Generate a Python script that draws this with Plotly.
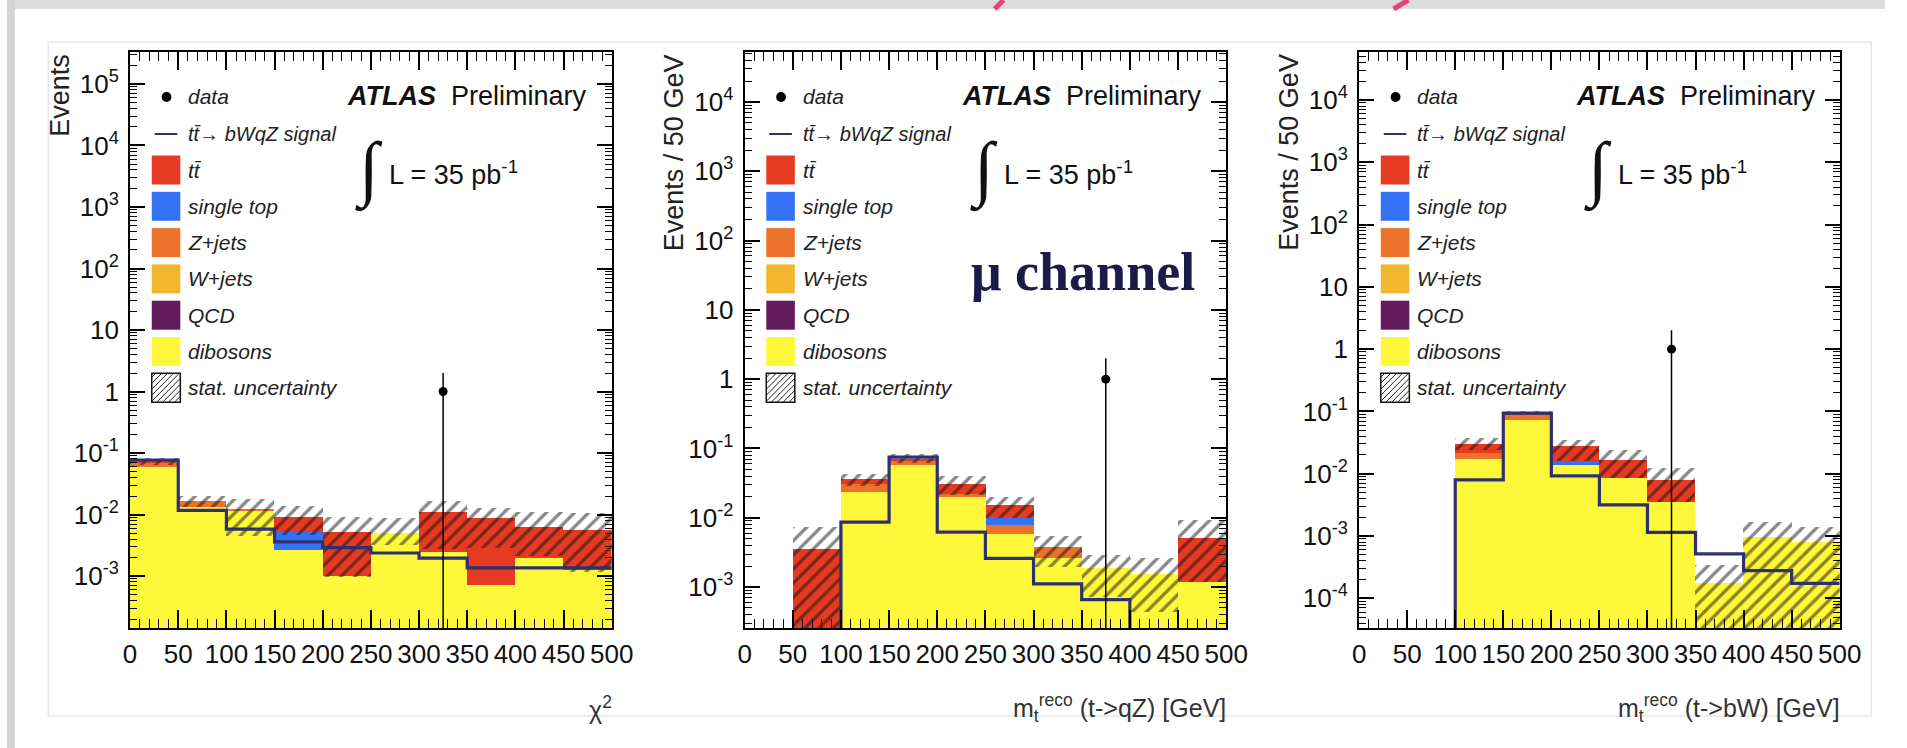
import plotly.graph_objects as go
import numpy as np

W, H = 1907, 748

# ---------------- data ----------------
bin_edges = [0, 50, 100, 150, 200, 250, 300, 350, 400, 450, 500]
bin_centers = [25, 75, 125, 175, 225, 275, 325, 375, 425, 475]
x_tick_labels = ["0", "50", "100", "150", "200", "250", "300", "350", "400", "450", "500"]

# Panel 1: chi2
chi2_dibosons = [0.059, 0.0133, 0.0115, 0.0027, 0.00102, 0.0050, 0.00245, 0.00072, 0.00196, 0.00126]
chi2_qcd      = [0, 0, 0, 0, 0, 0, 0, 0, 0, 0]
chi2_wjets    = [0, 0, 0, 0, 0, 0, 0, 0, 0, 0]
chi2_zjets    = [0.011, 0.0033, 0.0007, 0, 0, 0, 0, 0, 0, 0]
chi2_singletop = [0, 0, 0, 0.0025, 0, 0, 0, 0, 0, 0]
chi2_ttbar    = [0.002, 0, 0, 0.0039, 0.0042, 0, 0.0086, 0.0079, 0.0043, 0.0044]
chi2_stat_lo  = [0.063, 0.0133, 0.0045, 0.0047, 0.00095, 0.0032, 0.0028, 0.0029, 0.0021, 0.00115]
chi2_stat_hi  = [0.082, 0.020, 0.018, 0.0136, 0.0091, 0.0088, 0.0167, 0.0126, 0.011, 0.0104]
chi2_signal   = [0.077, 0.0117, 0.0058, 0.0036, 0.0029, 0.00237, 0.00196, 0.00136, 0.00136, 0.00136]
chi2_data_x, chi2_data_y, chi2_data_err = [325], [1], [1]

# Panel 2: m_reco(t->qZ)
mqz_dibosons = [0, 0, 0.0234, 0.057, 0.0198, 0.0059, 0.0026, 0.00187, 0.00155, 0.00118]
mqz_qcd      = [0, 0, 0, 0, 0, 0, 0, 0, 0, 0]
mqz_wjets    = [0, 0, 0, 0, 0, 0, 0, 0, 0, 0]
mqz_zjets    = [0, 0, 0.0075, 0.0086, 0.0024, 0.0019, 0.0012, 0, 0, 0]
mqz_singletop = [0, 0, 0, 0, 0, 0.0023, 0, 0, 0, 0]
mqz_ttbar    = [0, 0.0036, 0.0048, 0.0054, 0.0088, 0.0051, 0, 0, 0, 0.0040]
mqz_stat_lo  = [0, 0, 0.029, 0.062, 0.021, 0.0100, 0.00195, 0.00071, 0.00044, 0.0012]
mqz_stat_hi  = [0, 0.0073, 0.043, 0.082, 0.0407, 0.0198, 0.0054, 0.0029, 0.0026, 0.0093]
mqz_signal   = [0, 0, 0.00865, 0.075, 0.0062, 0.0026, 0.00111, 0.00066, 0, 0]
mqz_data_x, mqz_data_y, mqz_data_err = [375], [1], [1]

# Panel 3: m_reco(t->bW)
mbw_dibosons = [0, 0, 0.0172, 0.0735, 0.01355, 0.0085, 0.00357, 0.000174, 0.00098, 0.00081]
mbw_qcd      = [0, 0, 0, 0, 0, 0, 0, 0, 0, 0]
mbw_wjets    = [0, 0, 0, 0, 0, 0, 0, 0, 0, 0]
mbw_zjets    = [0, 0, 0.0047, 0.015, 0, 0, 0, 0, 0, 0]
mbw_singletop = [0, 0, 0, 0, 0.0022, 0, 0, 0, 0, 0]
mbw_ttbar    = [0, 0, 0.0084, 0.0055, 0.0124, 0.0078, 0.0044, 0, 0, 0]
mbw_stat_lo  = [0, 0, 0.024, 0.088, 0.016, 0.0085, 0.0035, 0, 0, 0]
mbw_stat_hi  = [0, 0, 0.0373, 0.100, 0.035, 0.0242, 0.0123, 0.00034, 0.0017, 0.00142]
mbw_signal   = [0, 0, 0.00798, 0.094, 0.0092, 0.00316, 0.00114, 0.000515, 0.000278, 0.000174]
mbw_data_x, mbw_data_y, mbw_data_err = [325], [1], [1]

y_tick_vals = [1e-4, 1e-3, 1e-2, 1e-1, 1, 10, 100, 1e3, 1e4, 1e5]
y_tick_text = ["10<sup>-4</sup>", "10<sup>-3</sup>", "10<sup>-2</sup>", "10<sup>-1</sup>", "1", "10",
               "10<sup>2</sup>", "10<sup>3</sup>", "10<sup>4</sup>", "10<sup>5</sup>"]

legend_labels = ["tt\u0304", "single top", "Z+jets", "W+jets", "QCD", "dibosons"]

# ---------------- style ----------------
COL = {"ttbar": "#E63A22", "singletop": "#3472F5", "zjets": "#EC7229", "wjets": "#F3B72F",
       "qcd": "#631B5C", "dibosons": "#FEF73A"}
SIGNAL = "#2D3170"
FONT = "Liberation Sans"

panels = [
    dict(L=125, R=614, yr=[-3.845, 5.52], ytitle="Events", xtitle="\u03c7<sup>2</sup>",
         comps=[chi2_dibosons, chi2_qcd, chi2_wjets, chi2_zjets, chi2_singletop, chi2_ttbar],
         lo=chi2_stat_lo, hi=chi2_stat_hi, sig=chi2_signal,
         dx=chi2_data_x, dy=chi2_data_y, de=chi2_data_err),
    dict(L=749, R=1238, yr=[-3.59, 4.72], ytitle="Events / 50 GeV",
         xtitle="m<sub>t</sub><sup>reco</sup> (t->qZ) [GeV]",
         comps=[mqz_dibosons, mqz_qcd, mqz_wjets, mqz_zjets, mqz_singletop, mqz_ttbar],
         lo=mqz_stat_lo, hi=mqz_stat_hi, sig=mqz_signal,
         dx=mqz_data_x, dy=mqz_data_y, de=mqz_data_err),
    dict(L=1373, R=1861, yr=[-4.477, 4.77], ytitle="Events / 50 GeV",
         xtitle="m<sub>t</sub><sup>reco</sup> (t->bW) [GeV]",
         comps=[mbw_dibosons, mbw_qcd, mbw_wjets, mbw_zjets, mbw_singletop, mbw_ttbar],
         lo=mbw_stat_lo, hi=mbw_stat_hi, sig=mbw_signal,
         dx=mbw_data_x, dy=mbw_data_y, de=mbw_data_err),
]
comp_colors = [COL["dibosons"], COL["qcd"], COL["wjets"], COL["zjets"], COL["singletop"], COL["ttbar"]]
TOP, BOT = 52, 628
TINY = 1e-12


def px(x):
    return x / W


def py(y):
    return 1 - y / H


fig = go.Figure()
shapes = []
annotations = []

# slide decorations
shapes.append(dict(type="rect", xref="paper", yref="paper", x0=0, x1=1, y0=py(9), y1=1,
                   fillcolor="#DCDCDF", line=dict(width=0), layer="below"))
shapes.append(dict(type="rect", xref="paper", yref="paper", x0=0, x1=px(8), y0=0, y1=1,
                   fillcolor="#D4D4D6", line=dict(width=0), layer="below"))
shapes.append(dict(type="rect", xref="paper", yref="paper", x0=px(42), x1=px(1893), y0=py(716), y1=py(42),
                   fillcolor="rgba(0,0,0,0)", line=dict(color="#E6E6E6", width=1.5), layer="below"))
for (xa0, ya0, xa1, ya1) in [(1012, 0, 1003, 9), (1423, 0, 1408, 9)]:
    shapes.append(dict(type="line", xref="paper", yref="paper", x0=px(xa0), y0=py(ya0), x1=px(xa1), y1=py(ya1),
                       line=dict(color="#E8417A", width=5)))

for k, p in enumerate(panels, start=1):
    xa = "x" if k == 1 else f"x{k}"
    ya = "y" if k == 1 else f"y{k}"
    L, R = p["L"], p["R"]

    # stacked backgrounds
    base = np.zeros(10)
    for vals, col in zip(p["comps"], comp_colors):
        v = np.array(vals, dtype=float)
        fig.add_trace(go.Bar(x=bin_centers, y=v, base=np.maximum(base, TINY), width=50,
                             marker=dict(color=col, line=dict(width=0)),
                             xaxis=xa, yaxis=ya, showlegend=False, hoverinfo="skip"))
        base = base + v

    # stat uncertainty band (hatched)
    lo = np.array(p["lo"], dtype=float)
    hi = np.array(p["hi"], dtype=float)
    fig.add_trace(go.Bar(x=bin_centers, y=hi - lo, base=np.maximum(lo, TINY), width=50,
                         marker=dict(color="rgba(0,0,0,0)", line=dict(width=0),
                                     pattern=dict(shape="/", fgcolor="#111111", bgcolor="rgba(0,0,0,0)",
                                                  fillmode="overlay", size=10, solidity=0.33)),
                         xaxis=xa, yaxis=ya, showlegend=False, hoverinfo="skip"))

    # signal step line
    sig = np.maximum(np.array(p["sig"] + [p["sig"][-1]], dtype=float), TINY)
    fig.add_trace(go.Scatter(x=bin_edges, y=sig, mode="lines", line=dict(color=SIGNAL, width=3.2, shape="hv"),
                             xaxis=xa, yaxis=ya, showlegend=False, hoverinfo="skip"))

    # data
    fig.add_trace(go.Scatter(x=p["dx"], y=p["dy"], mode="markers",
                             marker=dict(color="black", size=9),
                             error_y=dict(type="data", array=p["de"], arrayminus=p["de"], width=0,
                                          thickness=1.5, color="black"),
                             xaxis=xa, yaxis=ya, showlegend=False, hoverinfo="skip"))

    # axes
    lo_dec = int(np.ceil(p["yr"][0]))
    hi_dec = int(np.floor(p["yr"][1]))
    tv, tt = [], []
    for v, t in zip(y_tick_vals, y_tick_text):
        e = int(round(np.log10(v)))
        if lo_dec <= e <= hi_dec:
            tv.append(v)
            tt.append(t)
    xkey = "xaxis" if k == 1 else f"xaxis{k}"
    ykey = "yaxis" if k == 1 else f"yaxis{k}"
    fig.layout[xkey] = dict(domain=[px(L), px(R)], anchor=ya, range=[0, 500], tickmode="array",
                            tickvals=bin_edges, ticktext=x_tick_labels, ticks="inside", ticklen=18,
                            tickwidth=1.5, tickcolor="black", showline=True, linecolor="black", linewidth=2,
                            mirror="ticks", showgrid=False, zeroline=False, ticklabelstandoff=2,
                            tickfont=dict(family=FONT, size=26, color="#111"),
                            minor=dict(dtick=10, tick0=0, ticks="inside", ticklen=9, tickwidth=1.2,
                                       tickcolor="black", showgrid=False))
    fig.layout[ykey] = dict(domain=[py(BOT), py(TOP)], anchor=xa, type="log", range=p["yr"],
                            tickmode="array", tickvals=tv, ticktext=tt, ticks="inside", ticklen=15,
                            tickwidth=1.5, tickcolor="black", showline=True, linecolor="black", linewidth=2,
                            mirror="ticks", showgrid=False, zeroline=False, ticklabelstandoff=4,
                            tickfont=dict(family=FONT, size=26, color="#111"),
                            minor=dict(dtick="D1", ticks="inside", ticklen=7, tickwidth=1,
                                       tickcolor="black", showgrid=False))

    # axis titles
    annotations.append(dict(xref="paper", yref="paper", x=px(L - 72), y=py(TOP), xanchor="center",
                            yanchor="top", textangle=-90, showarrow=False, text=p["ytitle"],
                            font=dict(family=FONT, size=27, color="#222")))
    annotations.append(dict(xref="paper", yref="paper", x=px(R + 2), y=py(708), xanchor="right",
                            yanchor="middle", showarrow=False, text=p["xtitle"],
                            font=dict(family=FONT, size=25, color="#333")))

    # ATLAS label & lumi
    annotations.append(dict(xref="paper", yref="paper", x=px(L + 466), y=py(TOP + 44), xanchor="right",
                            yanchor="middle", showarrow=False,
                            text="<b><i>ATLAS</i></b>  Preliminary",
                            font=dict(family=FONT, size=27, color="#111")))
    annotations.append(dict(xref="paper", yref="paper", x=px(L + 243), y=py(TOP + 118), xanchor="center",
                            yanchor="middle", showarrow=False, text="\u222b",
                            font=dict(family="Liberation Serif", size=72, color="#111")))
    annotations.append(dict(xref="paper", yref="paper", x=px(L + 261), y=py(TOP + 121), xanchor="left",
                            yanchor="middle", showarrow=False, text="L = 35 pb<sup>-1</sup>",
                            font=dict(family=FONT, size=27, color="#111")))

    # legend
    lx_text = L + 57
    shapes.append(dict(type="circle", xref="paper", yref="paper", x0=px(L + 32), x1=px(L + 42),
                       y0=py(TOP + 50), y1=py(TOP + 40), fillcolor="black", line=dict(width=0)))
    annotations.append(dict(xref="paper", yref="paper", x=px(lx_text), y=py(TOP + 45), xanchor="left",
                            yanchor="middle", showarrow=False, text="<i>data</i>",
                            font=dict(family=FONT, size=21, color="#222")))
    shapes.append(dict(type="line", xref="paper", yref="paper", x0=px(L + 25), x1=px(L + 48),
                       y0=py(TOP + 82), y1=py(TOP + 82), line=dict(color=SIGNAL, width=2)))
    annotations.append(dict(xref="paper", yref="paper", x=px(lx_text), y=py(TOP + 82), xanchor="left",
                            yanchor="middle", showarrow=False,
                            text="<i>tt\u0304\u2192 bWqZ signal</i>",
                            font=dict(family=FONT, size=20, color="#222")))
    sw_colors = [COL["ttbar"], COL["singletop"], COL["zjets"], COL["wjets"], COL["qcd"], COL["dibosons"]]
    for i, (lab, col) in enumerate(zip(legend_labels, sw_colors)):
        yc = TOP + 118 + 36.3 * i
        shapes.append(dict(type="rect", xref="paper", yref="paper", x0=px(L + 22), x1=px(L + 51),
                           y0=py(yc + 14.5), y1=py(yc - 14.5), fillcolor=col, line=dict(width=0)))
        annotations.append(dict(xref="paper", yref="paper", x=px(lx_text), y=py(yc), xanchor="left",
                                yanchor="middle", showarrow=False, text=f"<i>{lab}</i>",
                                font=dict(family=FONT, size=21, color="#222")))
    # stat uncertainty swatch
    yc = TOP + 118 + 36.3 * 6
    x0s, ybot, s = L + 22, yc + 14.5, 29
    shapes.append(dict(type="rect", xref="paper", yref="paper", x0=px(x0s), x1=px(x0s + s),
                       y0=py(ybot), y1=py(ybot - s), fillcolor="white", line=dict(color="#111", width=1.5)))
    for d in range(-s + 4, s, 6):
        u1, u2 = max(0, d), min(s, s + d)
        shapes.append(dict(type="line", xref="paper", yref="paper",
                           x0=px(x0s + u1), y0=py(ybot - (u1 - d)), x1=px(x0s + u2), y1=py(ybot - (u2 - d)),
                           line=dict(color="#222", width=1)))
    annotations.append(dict(xref="paper", yref="paper", x=px(lx_text), y=py(yc), xanchor="left",
                            yanchor="middle", showarrow=False, text="<i>stat. uncertainty</i>",
                            font=dict(family=FONT, size=21, color="#222")))

# mu channel label (middle panel)
annotations.append(dict(xref="paper", yref="paper", x=px(749 + 228), y=py(272), xanchor="left",
                        yanchor="middle", showarrow=False, text="<b>\u03bc channel</b>",
                        font=dict(family="Liberation Serif", size=54, color="#1B1A48")))

fig.update_layout(width=W, height=H, margin=dict(l=0, r=0, t=0, b=0), paper_bgcolor="white",
                  plot_bgcolor="white", barmode="overlay", bargap=0, showlegend=False,
                  shapes=shapes, annotations=annotations)

fig.write_html("out.html")
